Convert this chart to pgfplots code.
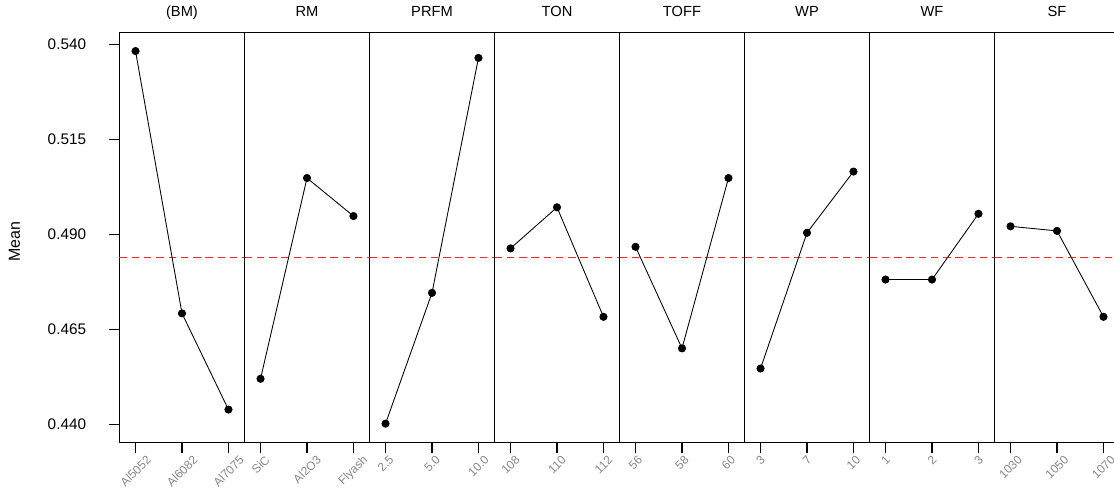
\documentclass[border=0pt]{standalone}
\usepackage{pgfplots}
\pgfplotsset{compat=1.18}
\usepackage{graphicx}
\usepackage{fontspec}
\setmainfont{Liberation Sans}
\definecolor{ticklab}{RGB}{135,135,135}
\definecolor{meanred}{RGB}{245,40,40}

\pgfplotsset{
  mepanel/.style={
    width=93.75pt, height=307.5pt, scale only axis,
    anchor=south west,
    xmin=-0.345, xmax=2.345, ymin=0.43524, ymax=0.54308,
    xtick={0,1,2}, ytick=\empty,
    axis x line*=box, axis y line*=left,
    tick align=outside, xtick pos=lower, ytick pos=left,
    major tick length=7.5pt,
    axis line style={line width=0.8pt, black},
    every tick/.style={black, line width=0.8pt},
    title style={at={(0.5,1)}, anchor=base, yshift=6.2pt, font=\fontsize{11}{13}\selectfont},
    xticklabel style={anchor=north, font=\fontsize{9}{11}\selectfont, text=ticklab, inner sep=1.5pt},
    clip=false,
  },
  lastpanel/.style={axis y line*=box, ytick pos=left},
  meanline/.style={color=meanred, line width=1.1pt, dash pattern=on 5.6pt off 3.6pt},
  effect/.style={color=black, line width=0.65pt, mark=*, mark size=2.7pt, mark options={solid, fill=black}},
}

\begin{document}
\begin{tikzpicture}
\useasboundingbox (-89.625pt,-35.625pt) rectangle (745.875pt,331.875pt);
\begin{scope}
\clip (-89.625pt,-35.625pt) rectangle (745.875pt,331.875pt);
\begin{pgfinterruptboundingbox}

\begin{axis}[mepanel, at={(0pt,0pt)}, title={(BM)},
  ytick={0.44,0.465,0.49,0.515,0.54},
  /pgf/number format/assume math mode=true,
  yticklabel style={/pgf/number format/.cd, fixed, fixed zerofill, precision=3, /tikz/.cd, font=\fontsize{11.5}{13}\selectfont, xshift=-14pt},
  ylabel={Mean},
  every axis y label/.style={at={(axis description cs:-0.84,0.49)}, rotate=90, anchor=center, font=\fontsize{12}{14}\selectfont},
  xticklabels={\rotatebox{45}{Al5052},\rotatebox{45}{Al6082},\rotatebox{45}{Al7075}}]
\addplot[meanline] coordinates {(-0.345,0.4839) (2.345,0.4839)};
\addplot[effect] coordinates {(0,0.5382) (1,0.4692) (2,0.4439)};
\end{axis}

\begin{axis}[mepanel, at={(93.75pt,0pt)}, title={RM},
  xticklabels={\rotatebox{45}{SiC},\rotatebox{45}{Al2O3},\rotatebox{45}{Flyash}}]
\addplot[meanline] coordinates {(-0.345,0.4839) (2.345,0.4839)};
\addplot[effect] coordinates {(0,0.4520) (1,0.5048) (2,0.4948)};
\end{axis}

\begin{axis}[mepanel, at={(187.5pt,0pt)}, title={PRFM},
  xticklabels={\rotatebox{45}{2.5},\rotatebox{45}{5.0},\rotatebox{45}{10.0}}]
\addplot[meanline] coordinates {(-0.345,0.4839) (2.345,0.4839)};
\addplot[effect] coordinates {(0,0.4402) (1,0.4746) (2,0.5364)};
\end{axis}

\begin{axis}[mepanel, at={(281.25pt,0pt)}, title={TON},
  xticklabels={\rotatebox{45}{108},\rotatebox{45}{110},\rotatebox{45}{112}}]
\addplot[meanline] coordinates {(-0.345,0.4839) (2.345,0.4839)};
\addplot[effect] coordinates {(0,0.4863) (1,0.4971) (2,0.4683)};
\end{axis}

\begin{axis}[mepanel, at={(375pt,0pt)}, title={TOFF},
  xticklabels={\rotatebox{45}{56},\rotatebox{45}{58},\rotatebox{45}{60}}]
\addplot[meanline] coordinates {(-0.345,0.4839) (2.345,0.4839)};
\addplot[effect] coordinates {(0,0.4867) (1,0.4600) (2,0.5048)};
\end{axis}

\begin{axis}[mepanel, at={(468.75pt,0pt)}, title={WP},
  xticklabels={\rotatebox{45}{3},\rotatebox{45}{7},\rotatebox{45}{10}}]
\addplot[meanline] coordinates {(-0.345,0.4839) (2.345,0.4839)};
\addplot[effect] coordinates {(0,0.4547) (1,0.4904) (2,0.5065)};
\end{axis}

\begin{axis}[mepanel, at={(562.5pt,0pt)}, title={WF},
  xticklabels={\rotatebox{45}{1},\rotatebox{45}{2},\rotatebox{45}{3}}]
\addplot[meanline] coordinates {(-0.345,0.4839) (2.345,0.4839)};
\addplot[effect] coordinates {(0,0.4781) (1,0.4781) (2,0.4954)};
\end{axis}

\begin{axis}[mepanel, lastpanel, at={(656.25pt,0pt)}, title={SF},
  xticklabels={\rotatebox{45}{1030},\rotatebox{45}{1050},\rotatebox{45}{1070}}]
\addplot[meanline] coordinates {(-0.345,0.4839) (2.345,0.4839)};
\addplot[effect] coordinates {(0,0.4921) (1,0.4909) (2,0.4683)};
\end{axis}

\end{pgfinterruptboundingbox}
\end{scope}
\end{tikzpicture}
\end{document}
